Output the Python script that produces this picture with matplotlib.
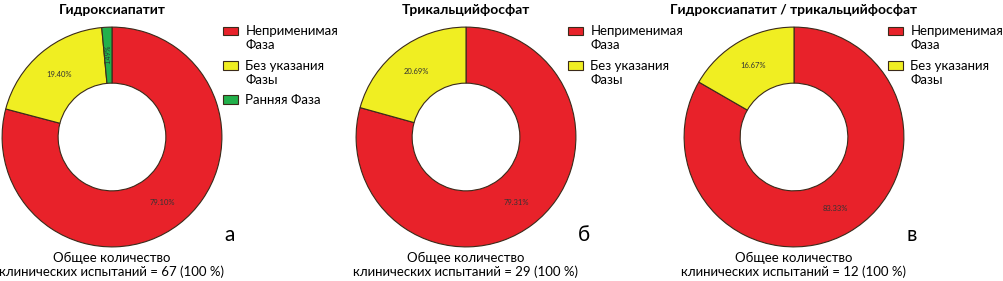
import matplotlib
matplotlib.use("Agg")
import matplotlib.pyplot as plt
from matplotlib.patches import Rectangle
from matplotlib.legend_handler import HandlerPatch

plt.rcParams['font.family'] = ['Lato', 'DejaVu Sans']

# data
titles = ["Гидроксиапатит", "Трикальцийфосфат", "Гидроксиапатит / трикальцийфосфат"]
letters = ["а", "б", "в"]
totals = [67, 29, 12]
labels_a = ["Неприменимая\nФаза", "Без указания\nФазы", "Ранняя Фаза"]
values_a = [79.10, 19.40, 1.49]
labels_b = ["Неприменимая\nФаза", "Без указания\nФазы"]
values_b = [79.31, 20.69]
labels_c = ["Неприменимая\nФаза", "Без указания\nФазы"]
values_c = [83.33, 16.67]
colors = ["#e8222a", "#f0ee22", "#22b04b"]

series = [(values_a, labels_a), (values_b, labels_b), (values_c, labels_c)]

W, H = 1004, 281
FS = 9.5
fig = plt.figure(figsize=(W / 100, H / 100), dpi=100)


def first_line_patch(legend, orig_handle, xdescent, ydescent, width, height, fontsize):
    # put the box next to the first line of a two-line label
    return Rectangle((-xdescent, -ydescent + fontsize * 0.55), width, height)


# pixel layout for each panel
pie_left = [1, 355, 683]
leg_x = [223, 568, 888]
size = 222

for i, (vals, labs) in enumerate(series):
    ax = fig.add_axes([pie_left[i] / W, 33 / H, size / W, size / H])
    total = sum(vals)
    wedges, texts, autotexts = ax.pie(
        vals, colors=colors[:len(vals)], startangle=90, counterclock=False,
        autopct=lambda p, t=total: "%.2f%%" % (p * t / 100), pctdistance=0.75,
        wedgeprops=dict(width=0.51, edgecolor="#3a2a1a", linewidth=0.8),
        textprops=dict(fontsize=5.5, color="#333333"))
    if i == 0:
        autotexts[2].set_rotation(90)
        autotexts[2].set_fontsize(5)
    ax.set_xlim(-1.01, 1.01)
    ax.set_ylim(-1.01, 1.01)
    cx = (pie_left[i] + size / 2) / W
    fig.text(cx, 1 - 10 / H, titles[i], ha="center", va="center",
             fontsize=10, fontweight="bold")
    fig.text(cx, 1 - 265 / H,
             "Общее количество\nклинических испытаний = %d (100 %%)" % totals[i],
             ha="center", va="center", fontsize=FS, linespacing=1.1)
    fig.text((pie_left[i] + size + 7) / W, 1 - 235 / H, letters[i],
             ha="center", va="center", fontsize=15)
    hmap = {w: HandlerPatch(patch_func=first_line_patch)
            for w, l in zip(wedges, labs) if "\n" in l}
    fig.legend(wedges, labs, loc="upper left", handler_map=hmap,
               bbox_to_anchor=(leg_x[i] / W, 1 - 25 / H),
               frameon=False, fontsize=FS, handlelength=1.1, handleheight=0.6,
               handletextpad=0.6, labelspacing=0.65, borderpad=0, borderaxespad=0)

fig.savefig("out.png", dpi=100)
